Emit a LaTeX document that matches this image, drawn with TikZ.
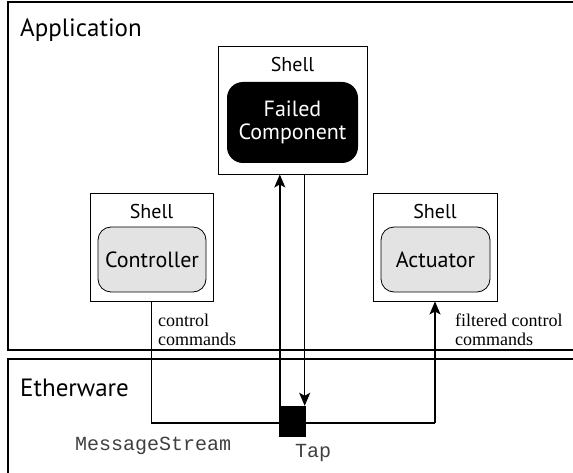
\documentclass[tikz,border=0pt]{standalone}
\usepackage{fontspec}
\setmainfont{PT Sans}
\newfontfamily\serifface{Liberation Serif}
\newfontfamily\monoface{Liberation Mono}
\usetikzlibrary{arrows.meta,calc}

\begin{document}
\begin{tikzpicture}[x=1pt,y=-1pt,
  frame/.style={line width=1.3pt},
  shellbox/.style={draw,line width=0.9pt,fill=white,inner sep=0pt,
    minimum width=123pt,minimum height=108pt},
  shelllabel/.style={inner sep=0pt,font=\fontsize{20}{23}\selectfont},
  compbox/.style={draw,line width=0.8pt,fill=black!11,rounded corners=13pt,
    inner sep=0pt,minimum width=108pt,minimum height=65pt,
    font=\fontsize{22}{24}\selectfont},
  failbox/.style={fill=black,text=white,rounded corners=16pt,inner sep=0pt,
    minimum width=131pt,minimum height=81pt,align=center,
    font=\fontsize{22}{23}\selectfont},
  heading/.style={inner sep=0pt,anchor=base west,font=\fontsize{25}{28}\selectfont},
  note/.style={inner sep=0pt,anchor=base west,align=left,
    font=\serifface\fontsize{18}{19}\selectfont},
  mono/.style={inner sep=0pt,anchor=base west,text=black!75,
    font=\monoface\fontsize{20}{22}\selectfont},
  wire/.style={line width=1.4pt},
  flow/.style={wire,-{Stealth[length=13pt,width=11pt,inset=3pt]}}
]
\useasboundingbox (0,0) rectangle (573,473);

% Layers
\draw[frame] (573,2) -- (8,2) -- (8,350) -- (573,350);
\node[heading] (app) at (20,37) {Application};
\draw[frame] (573,359) -- (8,359) -- (8,473);
\node[heading] (eth) at (20,396) {Etherware};

% Failed component in its shell
\node[shellbox,minimum width=149pt,minimum height=128pt] (fshell) at (292.5,110) {};
\node[shelllabel,anchor=base] (fshelltxt) at ($(fshell.north)+(0,26)$) {Shell};
\node[failbox] (failed) at (292.5,122.5) {Failed\\Component};

% Controller
\node[shellbox] (cshell) at (151.5,247) {};
\node[shelllabel,anchor=base] (cshelltxt) at ($(cshell.north)+(0,26)$) {Shell};
\node[compbox] (ctrl) at (152,259.5) {Controller};

% Actuator
\node[shellbox,minimum width=124pt] (ashell) at (435,247) {};
\node[shelllabel,anchor=base] (ashelltxt) at ($(ashell.north)+(0,26)$) {Shell};
\node[compbox,minimum width=109pt] (act) at (435.5,259.5) {Actuator};

% Tap on the message stream
\node[fill=black,inner sep=0pt,minimum width=27.5pt,minimum height=31pt] (tap) at (292.25,421.5) {};
\coordinate (bendL) at (cshell.south |- 0,423);
\coordinate (bendR) at (ashell.south |- 0,423);
\draw[wire] (cshell.south) -- (bendL) -- (bendR);
\draw[flow] (bendR) -- (ashell.south);

% Up and down links between the tap and the failed component
\coordinate (upB) at ($(tap.north west)+(1.5,0)$);
\coordinate (upT) at (upB |- fshell.south);
\coordinate (dnB) at ($(tap.north east)+(-1.5,0)$);
\coordinate (dnT) at (dnB |- fshell.south);
\draw[flow] (upB) -- (upT);
\draw[flow] (dnT) -- (dnB);

% Labels
\node[note] (ctrlcmd) at (158,345) {control\\commands};
\node[note] (filtcmd) at (455,345) {filtered control\\commands};
\node[mono] (ms) at (75,450) {MessageStream};
\node[mono] (taptxt) at (295,457) {Tap};
\end{tikzpicture}
\end{document}
